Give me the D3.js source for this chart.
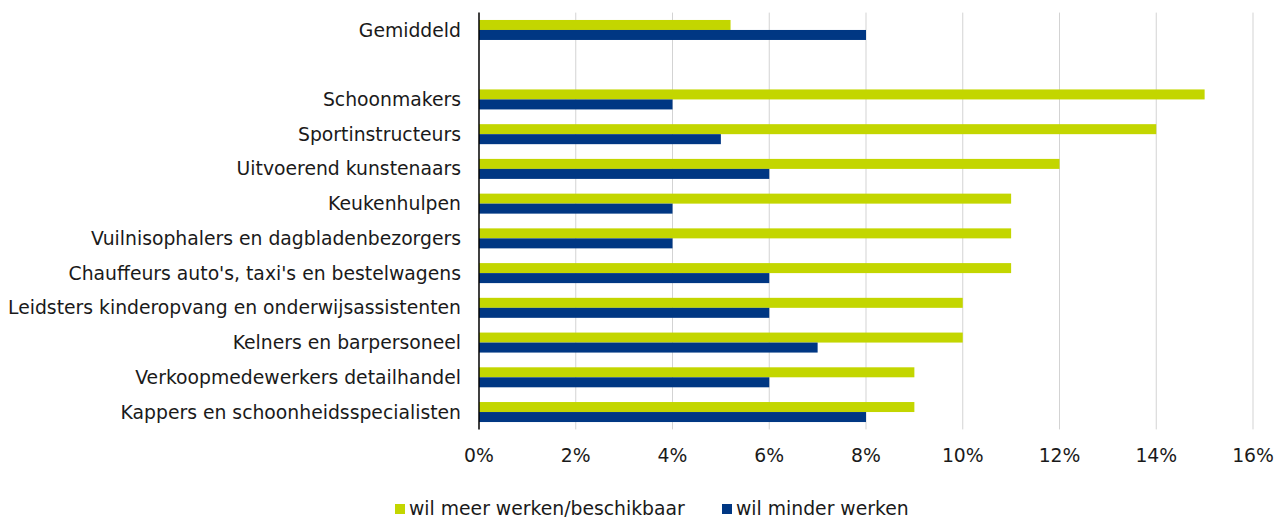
<!DOCTYPE html>
<html lang="nl">
<head>
<meta charset="UTF-8">
<title>Meer of minder werken per beroep</title>
<script src="https://cdn.jsdelivr.net/npm/d3@7"></script>
<style>
    body { margin: 0; background: #fff; }
    svg text { font-family: Verdana, "DejaVu Sans", sans-serif; fill: #1a1a1a; }
</style>
</head>
<body>
<div id="chart"></div>
<script>
    // categories, top to bottom ("" is the empty spacer row)
    const categories = [
        "Gemiddeld",
        "",
        "Schoonmakers",
        "Sportinstructeurs",
        "Uitvoerend kunstenaars",
        "Keukenhulpen",
        "Vuilnisophalers en dagbladenbezorgers",
        "Chauffeurs auto's, taxi's en bestelwagens",
        "Leidsters kinderopvang en onderwijsassistenten",
        "Kelners en barpersoneel",
        "Verkoopmedewerkers detailhandel",
        "Kappers en schoonheidsspecialisten"
    ]
    const meerWerken = [5.2, null, 15, 14, 12, 11, 11, 11, 10, 10, 9, 9]
    const minderWerken = [8, null, 4, 5, 6, 4, 4, 6, 6, 7, 6, 8]
    const seriesNames = ["wil meer werken/beschikbaar", "wil minder werken"]
    const seriesColors = ["#c3d600", "#003783"]
    const xTicks = [0, 2, 4, 6, 8, 10, 12, 14, 16]

    const width = 1276
    const height = 518
    const margin = {top: 12.6, right: 23, bottom: 88.6, left: 479}
    const fontSize = "18.8px"

    const svg = d3.select("#chart").append("svg")
        .attr("width", width)
        .attr("height", height)

    const x = d3.scaleLinear()
        .domain([0, 16])
        .range([margin.left, width - margin.right])

    const y = d3.scaleBand()
        .domain(d3.range(categories.length))
        .range([margin.top, height - margin.bottom])

    const sub = d3.scaleBand()
        .domain([0, 1])
        .range([y.bandwidth() / 2 - 10, y.bandwidth() / 2 + 10])

    // gridlines
    svg.append("g")
        .selectAll("line")
        .data(xTicks.slice(1))
        .enter().append("line")
        .attr("x1", (d) => x(d))
        .attr("x2", (d) => x(d))
        .attr("y1", margin.top)
        .attr("y2", height - margin.bottom)
        .attr("stroke", "#d3d3d3")
        .attr("stroke-width", 1)

    const rows = categories.map((c, i) => ({i: i, name: c, values: [meerWerken[i], minderWerken[i]]}))

    const groups = svg.append("g")
        .selectAll("g")
        .data(rows.filter((d) => d.values[0] !== null))
        .enter().append("g")
        .attr("transform", (d) => `translate(0, ${y(d.i)})`)

    groups.selectAll("rect")
        .data((d) => d.values.map((v, k) => ({v: v, k: k})))
        .enter().append("rect")
        .attr("x", x(0))
        .attr("y", (d) => sub(d.k))
        .attr("width", (d) => x(d.v) - x(0))
        .attr("height", sub.bandwidth())
        .attr("fill", (d) => seriesColors[d.k])

    // category labels
    svg.append("g")
        .selectAll("text")
        .data(rows)
        .enter().append("text")
        .attr("x", margin.left - 18)
        .attr("y", (d) => y(d.i) + y.bandwidth() / 2)
        .attr("dy", "0.35em")
        .attr("text-anchor", "end")
        .style("font-size", fontSize)
        .text((d) => d.name)

    // axis line
    svg.append("line")
        .attr("x1", x(0))
        .attr("x2", x(0))
        .attr("y1", margin.top)
        .attr("y2", height - margin.bottom)
        .attr("stroke", "#000")
        .attr("stroke-width", 1.5)

    // x tick labels
    svg.append("g")
        .selectAll("text")
        .data(xTicks)
        .enter().append("text")
        .attr("x", (d) => x(d))
        .attr("y", 462)
        .attr("text-anchor", "middle")
        .style("font-size", fontSize)
        .text((d) => d + "%")

    // legend
    const legendX = [395, 722]
    const legend = svg.append("g")
        .selectAll("g")
        .data(seriesNames)
        .enter().append("g")
        .attr("transform", (d, i) => `translate(${legendX[i]}, 504)`)

    legend.append("rect")
        .attr("width", 10)
        .attr("height", 10)
        .attr("fill", (d, i) => seriesColors[i])

    legend.append("text")
        .attr("x", 14)
        .attr("y", 4)
        .attr("dy", "0.35em")
        .style("font-size", fontSize)
        .text((d) => d)
</script>
</body>
</html>
